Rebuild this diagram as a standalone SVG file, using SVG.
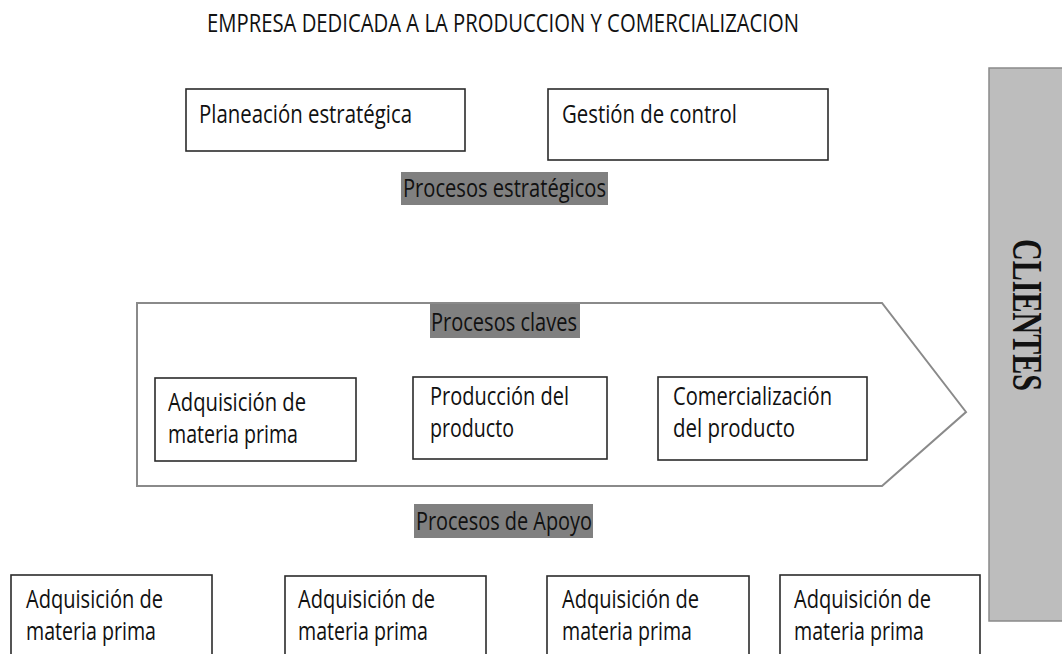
<svg xmlns="http://www.w3.org/2000/svg" width="1062" height="654" viewBox="0 0 1062 654">
<style>
.t{font-family:"Open Sans","Liberation Sans",sans-serif;font-size:25px;fill:#111;}
.box{fill:#fff;stroke:#2b2b2b;stroke-width:1.6;}
.hl{fill:#808080;}
</style>
<rect width="1062" height="654" fill="#fff"/>
<text class="t" x="207" y="32" font-size="23.5" textLength="592" lengthAdjust="spacingAndGlyphs">EMPRESA DEDICADA A LA PRODUCCION Y COMERCIALIZACION</text>

<g id="clientes">
<rect x="989" y="68" width="80" height="553" fill="#bdbdbd" stroke="#8a8a8a" stroke-width="1.5"/>
<text transform="translate(1013,315) rotate(90)" x="0" y="0" text-anchor="middle" font-family="'Liberation Serif','Times New Roman',serif" font-weight="bold" font-size="43" fill="#111" textLength="152" lengthAdjust="spacingAndGlyphs">CLIENTES</text>
</g>

<g id="planeacion">
<rect class="box" x="186" y="89" width="279" height="62"/>
<text class="t" x="199" y="123" textLength="213" lengthAdjust="spacingAndGlyphs">Planeación estratégica</text>
</g>
<g id="gestion">
<rect class="box" x="548" y="89" width="280" height="71"/>
<text class="t" x="562" y="123" textLength="175" lengthAdjust="spacingAndGlyphs">Gestión de control</text>
</g>
<g id="label-estrategicos">
<rect class="hl" x="401" y="172" width="207" height="33"/>
<text class="t" x="403" y="197" textLength="203" lengthAdjust="spacingAndGlyphs">Procesos estratégicos</text>
</g>

<g id="procesos-claves">
<polygon points="137,303 882,303 966,412 882,486 137,486" fill="#fff" stroke="#8a8a8a" stroke-width="2"/>
<rect class="hl" x="430" y="304" width="150" height="34"/>
<text class="t" x="431" y="331" textLength="146" lengthAdjust="spacingAndGlyphs">Procesos claves</text>
</g>
<g id="clave-adquisicion">
<rect class="box" x="155" y="378" width="201" height="83"/>
<text class="t" x="168" y="411" textLength="138" lengthAdjust="spacingAndGlyphs">Adquisición de</text>
<text class="t" x="168" y="443" textLength="130" lengthAdjust="spacingAndGlyphs">materia prima</text>
</g>
<g id="clave-produccion">
<rect class="box" x="413" y="377" width="194" height="82"/>
<text class="t" x="430" y="405" textLength="139" lengthAdjust="spacingAndGlyphs">Producción del</text>
<text class="t" x="430" y="437" textLength="84" lengthAdjust="spacingAndGlyphs">producto</text>
</g>
<g id="clave-comercializacion">
<rect class="box" x="658" y="377" width="209" height="83"/>
<text class="t" x="673" y="405" textLength="159" lengthAdjust="spacingAndGlyphs">Comercialización</text>
<text class="t" x="673" y="437" textLength="122" lengthAdjust="spacingAndGlyphs">del producto</text>
</g>

<g id="label-apoyo">
<rect class="hl" x="414" y="504" width="179" height="34"/>
<text class="t" x="416" y="530" textLength="176" lengthAdjust="spacingAndGlyphs">Procesos de Apoyo</text>
</g>

<g id="apoyo-1">
<rect class="box" x="11" y="575" width="201" height="90"/>
<text class="t" x="26" y="608" textLength="137" lengthAdjust="spacingAndGlyphs">Adquisición de</text>
<text class="t" x="26" y="640" textLength="130" lengthAdjust="spacingAndGlyphs">materia prima</text>
</g>
<g id="apoyo-2">
<rect class="box" x="285" y="576" width="201" height="90"/>
<text class="t" x="298" y="608" textLength="137" lengthAdjust="spacingAndGlyphs">Adquisición de</text>
<text class="t" x="298" y="640" textLength="130" lengthAdjust="spacingAndGlyphs">materia prima</text>
</g>
<g id="apoyo-3">
<rect class="box" x="547" y="576" width="202" height="90"/>
<text class="t" x="562" y="608" textLength="137" lengthAdjust="spacingAndGlyphs">Adquisición de</text>
<text class="t" x="562" y="640" textLength="130" lengthAdjust="spacingAndGlyphs">materia prima</text>
</g>
<g id="apoyo-4">
<rect class="box" x="780" y="575" width="200" height="90"/>
<text class="t" x="794" y="608" textLength="137" lengthAdjust="spacingAndGlyphs">Adquisición de</text>
<text class="t" x="794" y="640" textLength="130" lengthAdjust="spacingAndGlyphs">materia prima</text>
</g>
<g id="connectors"/>
</svg>
